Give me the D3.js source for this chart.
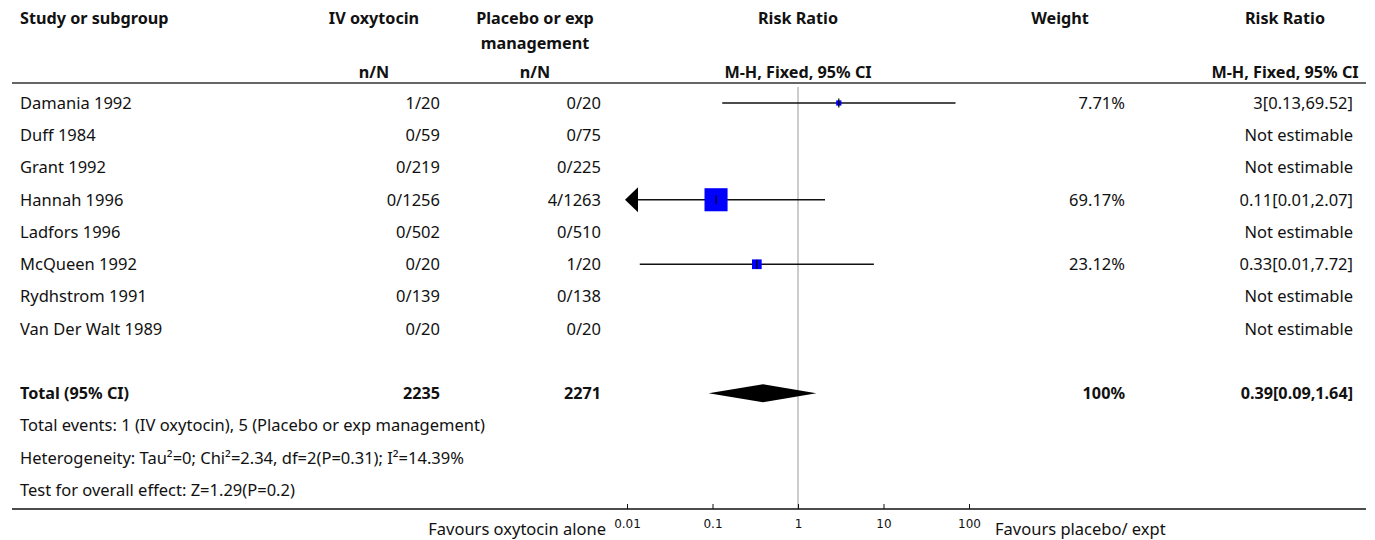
<!DOCTYPE html>
<html>
<head>
<meta charset="utf-8">
<script src="https://cdn.jsdelivr.net/npm/d3@7"></script>
<style>
  html, body { margin: 0; padding: 0; background: #fff; }
  svg { display: block; }
  text { font-family: "Noto Sans", "Open Sans", sans-serif; font-size: 16.5px; fill: #111; }
  .bold { font-weight: bold; font-size: 16.2px; }
  .tick text { font-family: "DejaVu Sans", sans-serif; font-size: 12px; }
</style>
</head>
<body>
<script>
// Forest plot: IV oxytocin vs placebo or expectant management
const studies = ["Damania 1992", "Duff 1984", "Grant 1992", "Hannah 1996", "Ladfors 1996", "McQueen 1992", "Rydhstrom 1991", "Van Der Walt 1989"];
const expEvents = [1, 0, 0, 0, 0, 0, 0, 0];
const expTotal = [20, 59, 219, 1256, 502, 20, 139, 20];
const ctrlEvents = [0, 0, 0, 4, 0, 1, 0, 0];
const ctrlTotal = [20, 75, 225, 1263, 510, 20, 138, 20];
const weights = [7.71, null, null, 69.17, null, 23.12, null, null];
const riskRatio = [3, null, null, 0.11, null, 0.33, null, null];
const ciLower = [0.13, null, null, 0.0058, null, 0.0141, null, null];
const ciUpper = [69.52, null, null, 2.07, null, 7.72, null, null];

const pooled = { rr: 0.39, lo: 0.09, hi: 1.64, weight: 100 };
const footnotes = [
  "Total events: 1 (IV oxytocin), 5 (Placebo or exp management)",
  "Heterogeneity: Tau\u00B2=0; Chi\u00B2=2.34, df=2(P=0.31); I\u00B2=14.39%",
  "Test for overall effect: Z=1.29(P=0.2)"
];
const tickValues = [0.01, 0.1, 1, 10, 100];
const favoursLeft = "Favours oxytocin alone";
const favoursRight = "Favours placebo/ expt";

const W = 1375, H = 540;
const svg = d3.select("body").append("svg").attr("width", W).attr("height", H);

const x = d3.scaleLog().domain([0.01, 100]).range([627, 969]);
const rowY = d3.scaleLinear().domain([0, 12]).range([103, 490]);
const boxSize = d3.scaleLinear().domain([0, 100]).range([3, 32]);

const fmt = v => String(+v.toFixed(2));

const col = { study: 20, expC: 374, expR: 440, ctrlC: 535, ctrlR: 601, plotC: 798, wC: 1060, wR: 1125, rrC: 1285, rrR: 1353 };

function txt(g, t, xx, yy, anchor, cls) {
  return g.append("text").attr("x", xx).attr("y", yy).attr("dy", "0.35em")
    .attr("text-anchor", anchor || "start").attr("class", cls || null).text(t);
}

// header
const hdr = svg.append("g");
txt(hdr, "Study or subgroup", col.study, 18, "start", "bold");
txt(hdr, "IV oxytocin", col.expC, 18, "middle", "bold");
txt(hdr, "Placebo or exp", col.ctrlC, 18, "middle", "bold");
txt(hdr, "management", col.ctrlC, 43, "middle", "bold");
txt(hdr, "Risk Ratio", col.plotC, 18, "middle", "bold");
txt(hdr, "Weight", col.wC, 18, "middle", "bold");
txt(hdr, "Risk Ratio", col.rrC, 18, "middle", "bold");
txt(hdr, "n/N", col.expC, 72, "middle", "bold");
txt(hdr, "n/N", col.ctrlC, 72, "middle", "bold");
txt(hdr, "M-H, Fixed, 95% CI", col.plotC, 72, "middle", "bold");
txt(hdr, "M-H, Fixed, 95% CI", col.rrC, 72, "middle", "bold");

svg.append("line").attr("x1", 12).attr("x2", 1366).attr("y1", 83).attr("y2", 83)
  .attr("stroke", "#333").attr("stroke-width", 1.6);

// line of no effect
svg.append("line").attr("x1", x(1)).attr("x2", x(1)).attr("y1", 87).attr("y2", 509)
  .attr("stroke", "#999").attr("stroke-width", 1);

// study rows
const body = svg.append("g");
studies.forEach((s, i) => {
  const y = rowY(i);
  txt(body, s, col.study, y);
  txt(body, expEvents[i] + "/" + expTotal[i], col.expR, y, "end");
  txt(body, ctrlEvents[i] + "/" + ctrlTotal[i], col.ctrlR, y, "end");
  if (riskRatio[i] == null) {
    txt(body, "Not estimable", col.rrR, y, "end");
    return;
  }
  txt(body, weights[i].toFixed(2) + "%", col.wR, y, "end");
  txt(body, fmt(riskRatio[i]) + "[" + fmt(ciLower[i]) + "," + fmt(ciUpper[i]) + "]", col.rrR, y, "end");

  const [dMin, dMax] = x.domain();
  const lo = Math.max(ciLower[i], dMin), hi = Math.min(ciUpper[i], dMax);
  body.append("line").attr("x1", x(lo)).attr("x2", x(hi)).attr("y1", y).attr("y2", y)
    .attr("stroke", "#111").attr("stroke-width", 1.3);
  if (ciLower[i] < dMin) {
    const x0 = x(dMin);
    body.append("path")
      .attr("d", `M${x0 - 2},${y} L${x0 + 11},${y - 12.5} L${x0 + 11},${y + 12.5} Z`)
      .attr("fill", "#000");
  }
  const s2 = boxSize(weights[i]);
  const cx = x(riskRatio[i]);
  body.append("rect").attr("x", cx - s2 / 2).attr("y", y - s2 / 2).attr("width", s2).attr("height", s2)
    .attr("fill", "#0000ff");
  body.append("line").attr("x1", cx).attr("x2", cx).attr("y1", y - 4.5).attr("y2", y + 4.5)
    .attr("stroke", "#000").attr("stroke-width", 1.2);
});

// pooled row
const yt = rowY(9);
txt(body, "Total (95% CI)", col.study, yt, "start", "bold");
txt(body, d3.sum(expTotal), col.expR, yt, "end", "bold");
txt(body, d3.sum(ctrlTotal), col.ctrlR, yt, "end", "bold");
txt(body, pooled.weight + "%", col.wR, yt, "end", "bold");
txt(body, fmt(pooled.rr) + "[" + fmt(pooled.lo) + "," + fmt(pooled.hi) + "]", col.rrR, yt, "end", "bold");
body.append("path")
  .attr("d", `M${x(pooled.lo)},${yt} L${x(pooled.rr)},${yt - 9} L${x(pooled.hi)},${yt} L${x(pooled.rr)},${yt + 9} Z`)
  .attr("fill", "#000");

footnotes.forEach((f, k) => txt(body, f, col.study, rowY(10 + k)));

// axis
svg.append("line").attr("x1", 12).attr("x2", 1366).attr("y1", 509).attr("y2", 509)
  .attr("stroke", "#111").attr("stroke-width", 1.5);
const axis = svg.append("g").attr("transform", "translate(0,509)")
  .call(d3.axisBottom(x).tickValues(tickValues).tickSize(-5).tickFormat(d => String(d)));
axis.select(".domain").remove();
axis.selectAll(".tick line").attr("stroke", "#111");
axis.selectAll(".tick text").attr("y", 19).attr("dy", "0").attr("fill", "#111");

txt(svg, favoursLeft, 606, 529, "end");
txt(svg, favoursRight, 995, 529, "start");
</script>
</body>
</html>
